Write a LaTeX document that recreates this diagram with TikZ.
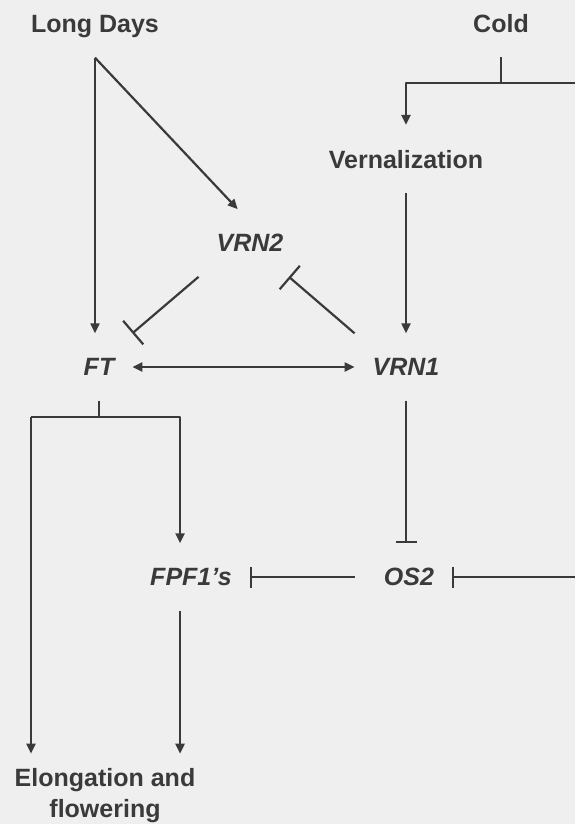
\documentclass[tikz,border=0pt]{standalone}
\usepackage{fontspec}
\setmainfont{Liberation Sans}
\usetikzlibrary{arrows.meta}
\definecolor{bg}{HTML}{EFEFEF}
\definecolor{ink}{HTML}{3A3A3A}
\begin{document}
\begin{tikzpicture}[x=1pt,y=-1pt,line join=round,line width=2.2pt,color=ink,
	>={Triangle[length=10pt,width=9pt]}]
	\tikzset{every node/.style={font=\fontsize{25}{31}\selectfont\bfseries,text depth=0pt,inner xsep=17pt,inner ysep=24pt},
		gene/.style={font=\fontsize{25}{31}\selectfont\bfseries\itshape},
		inh/.style={-{Bar[width=21pt]}},
		inhd/.style={-{Bar[width=31pt]}}}
	\fill[bg] (0,0) rectangle (575,824);
	\useasboundingbox (0,0) rectangle (575,824);
	\node (ld) at (95,24) {Long Days};
	\node (cold) at (501,23) {Cold};
	\node (vern) at (406,159) {Vernalization};
	\node[gene] (vrn2) at (250,243) {VRN2};
	\node[gene] (ft) at (99,367) {FT};
	\node[gene] (vrn1) at (406,367) {VRN1};
	\node[gene] (fpf) at (191,577) {FPF1's};
	\node[gene] (os2) at (409,577) {OS2};
	\node[align=center,text depth={},inner ysep=14pt] (elong) at (105,796) {Elongation and\\flowering};
	\coordinate (edgetop) at (578,83);
	\coordinate (edgeos) at (578,577);
	\coordinate (ftl) at (31,417);
	% long days
	\draw[->] (ld.south) -- (ld.south |- ft.north);
	\draw[->] (ld.south) -- (vrn2.110);
	% cold
	\draw (cold.south) -- (cold.south |- edgetop);
	\draw[->] (edgetop) -| (vern.north);
	\draw[->] (vern.south) -- (vrn1.north);
	% VRN2 / FT / VRN1
	\draw[inhd] (vrn2.south west) -- (ft.north east);
	\draw[inhd] (vrn1.north west) -- (vrn2.-41);
	\draw[<->] (ft.east) -- (vrn1.west);
	% OS2 and FPF1's
	\draw[inh] (vrn1.south) -- (os2.north -| vrn1.south);
	\draw[inh] (edgeos) -- (os2.east);
	\draw[inh] ([xshift=-11pt]os2.west) -- (fpf.east);
	\draw (ft.south) -- (ft.south |- ftl);
	\draw[->] (ftl) -- (ftl |- elong.north);
	\draw[->] (ftl) -| (fpf.108);
	\draw[->] (fpf.-108) -- (fpf.-108 |- elong.north);
\end{tikzpicture}
\end{document}
